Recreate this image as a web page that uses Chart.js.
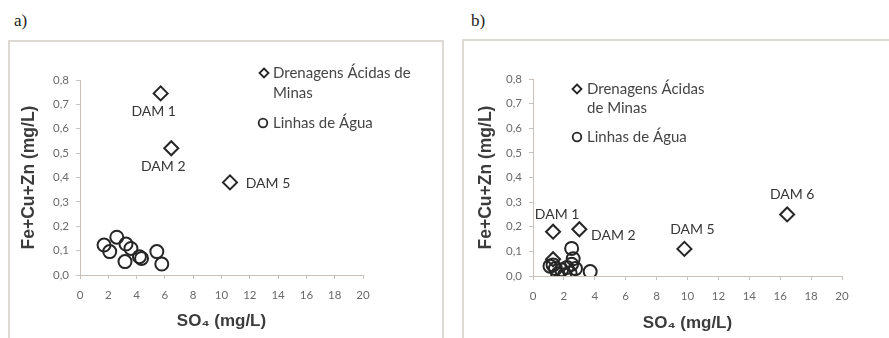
<!DOCTYPE html>
<html><head><meta charset="utf-8">
<script src="https://cdn.jsdelivr.net/npm/chart.js@4.4.1/dist/chart.umd.min.js"></script>
<style>
html,body{margin:0;padding:0;background:#fff;}
body{width:889px;height:338px;position:relative;overflow:hidden;}
.frame{position:absolute;border:2px solid #dddad5;border-bottom:none;}
.tag{position:absolute;font-family:"Liberation Serif",serif;font-size:17px;color:#222;line-height:20px;}
canvas{position:absolute;top:0;}
</style></head><body>
<div class="tag" style="left:14px;top:11px">a)</div>
<div class="tag" style="left:471px;top:11px">b)</div>
<div class="frame" style="left:8px;top:40px;width:432px;height:310px"></div>
<div class="frame" style="left:462px;top:39px;width:440px;height:310px"></div>
<canvas id="ca" width="444" height="338" style="left:0"></canvas>
<canvas id="cb" width="444" height="338" style="left:445px"></canvas>
<script>
// ---- data ----
const xTicks = [0, 2, 4, 6, 8, 10, 12, 14, 16, 18, 20];
const yTickLabels = ['0,0', '0,1', '0,2', '0,3', '0,4', '0,5', '0,6', '0,7', '0,8'];
const seriesNames = ['Drenagens Ácidas de Minas', 'Linhas de Água'];

const damA_x = [5.7, 6.45, 10.6];
const damA_y = [0.745, 0.52, 0.38];
const damA_labels = ['DAM 1', 'DAM 2', 'DAM 5'];
const aguaA_x = [1.7, 2.1, 2.6, 3.25, 3.6, 3.18, 4.2, 4.35, 5.43, 5.78];
const aguaA_y = [0.123, 0.096, 0.155, 0.127, 0.109, 0.055, 0.075, 0.068, 0.096, 0.045];

const damB_x = [1.3, 3.0, 9.8, 16.45, 1.3];
const damB_y = [0.18, 0.19, 0.11, 0.25, 0.068];
const damB_labels = ['DAM 1', 'DAM 2', 'DAM 5', 'DAM 6', ''];
const aguaB_x = [1.1, 1.45, 1.6, 1.85, 2.05, 2.4, 2.5, 2.6, 2.5, 2.75, 3.7, 1.3, 2.2];
const aguaB_y = [0.04, 0.03, 0.008, 0.025, 0.005, 0.012, 0.112, 0.07, 0.048, 0.03, 0.018, 0.045, 0.035];

// ---- styles / layout ----
const INK = '#262626';
const AXIS = '#c9c1bc';
const FONT = 'Lato, "Liberation Sans", sans-serif';
const pts = (xs, ys) => xs.map((x, i) => ({x, y: ys[i]}));

const annotPlugin = {
  id: 'annot',
  afterDatasetsDraw(chart, args, o) {
    const ctx = chart.ctx, xs = chart.scales.x, ys = chart.scales.y;
    const ds = chart.data.datasets[0].data;
    ctx.save();
    ctx.font = '14px ' + FONT;
    ctx.fillStyle = '#363636';
    ctx.textAlign = 'center';
    ctx.textBaseline = 'middle';
    o.labels.forEach((t, i) => {
      if (!t) return;
      const off = o.offsets[i];
      ctx.fillText(t, xs.getPixelForValue(ds[i].x) + off[0], ys.getPixelForValue(ds[i].y) + off[1]);
    });
    // legend
    ctx.textAlign = 'left';
    ctx.fillStyle = '#454545';
    ctx.font = '15px ' + FONT;
    o.legend.forEach(item => {
      ctx.strokeStyle = INK;
      ctx.lineWidth = 1.8;
      ctx.beginPath();
      const [mx, my] = item.marker;
      if (item.style === 'diamond') {
        const r = 4.5;
        ctx.moveTo(mx, my - r); ctx.lineTo(mx + r, my); ctx.lineTo(mx, my + r); ctx.lineTo(mx - r, my); ctx.closePath();
      } else {
        ctx.arc(mx, my, 4.3, 0, Math.PI * 2);
      }
      ctx.stroke();
      item.lines.forEach(l => ctx.fillText(l[0], l[1], l[2]));
    });
    ctx.restore();
  }
};

function makeChart(id, dam, agua, lay, annot) {
  return new Chart(document.getElementById(id), {
    type: 'scatter',
    data: {
      datasets: [
        {label: seriesNames[0], data: dam, pointStyle: 'rectRot', pointRadius: 7, pointHoverRadius: 7,
         borderColor: INK, backgroundColor: 'rgba(0,0,0,0)', pointBorderWidth: 2},
        {label: seriesNames[1], data: agua, pointStyle: 'circle', pointRadius: 6.5, pointHoverRadius: 6.5,
         borderColor: INK, backgroundColor: 'rgba(0,0,0,0)', pointBorderWidth: 2}
      ]
    },
    options: {
      responsive: false, animation: false, devicePixelRatio: 1,
      layout: {padding: {left: 0, top: lay.top, right: lay.right, bottom: 0}},
      plugins: {legend: {display: false}, tooltip: {enabled: false}, annot},
      scales: {
        x: {
          type: 'linear', min: 0, max: 20,
          afterBuildTicks: s => { s.ticks = xTicks.map(v => ({value: v})); },
          afterFit: s => { s.height = lay.xh; },
          ticks: {color: '#6a6a6a', font: {family: FONT, size: 11.5}, padding: 9, maxRotation: 0,
                  callback: v => String(v)},
          grid: {display: true, drawOnChartArea: false, drawTicks: true, tickLength: 4, color: AXIS},
          border: {display: true, color: AXIS, width: 1},
          title: {display: true, text: 'SO₄ (mg/L)', color: '#3c3c3c',
                  font: {family: 'Liberation Sans, Arial, sans-serif', size: 17, weight: 'bold'},
                  padding: {top: 0, bottom: lay.xtb}}
        },
        y: {
          type: 'linear', min: 0, max: 0.8,
          afterBuildTicks: s => { s.ticks = yTickLabels.map((t, i) => ({value: i / 10})); },
          afterFit: s => { s.width = lay.yw; },
          ticks: {color: '#6a6a6a', font: {family: FONT, size: 11.5}, padding: 7,
                  callback: (v, i) => yTickLabels[Math.round(v * 10)]},
          grid: {display: true, drawOnChartArea: false, drawTicks: true, tickLength: 4, color: AXIS},
          border: {display: true, color: AXIS, width: 1},
          title: {display: true, text: 'Fe+Cu+Zn (mg/L)', color: '#3c3c3c',
                  font: {family: 'Liberation Sans, Arial, sans-serif', size: 17.5, weight: 'bold'},
                  padding: {top: lay.ytt, bottom: 0}}
        }
      }
    },
    plugins: [annotPlugin]
  });
}

makeChart('ca', pts(damA_x, damA_y), pts(aguaA_x, aguaA_y),
  {top: 80, right: 81, xh: 63, yw: 80, xtb: 6, ytt: 19},
  {labels: damA_labels, offsets: [[-7, 18], [-8, 18], [38, 1]],
   legend: [
     {style: 'diamond', marker: [264, 73], lines: [['Drenagens Ácidas de', 273, 73], ['Minas', 273, 93]]},
     {style: 'circle', marker: [263, 123], lines: [['Linhas de Água', 273, 123]]}
   ]});

makeChart('cb', pts(damB_x, damB_y), pts(aguaB_x, aguaB_y),
  {top: 79, right: 47, xh: 62, yw: 88, xtb: 4, ytt: 31},
  {labels: damB_labels, offsets: [[4, -17], [34, 6], [8, -19], [5, -20], [0, 0]],
   legend: [
     {style: 'diamond', marker: [132, 89], lines: [['Drenagens Ácidas', 142, 89], ['de Minas', 142, 108]]},
     {style: 'circle', marker: [132, 137], lines: [['Linhas de Água', 142, 137]]}
   ]});
</script>
</body></html>
